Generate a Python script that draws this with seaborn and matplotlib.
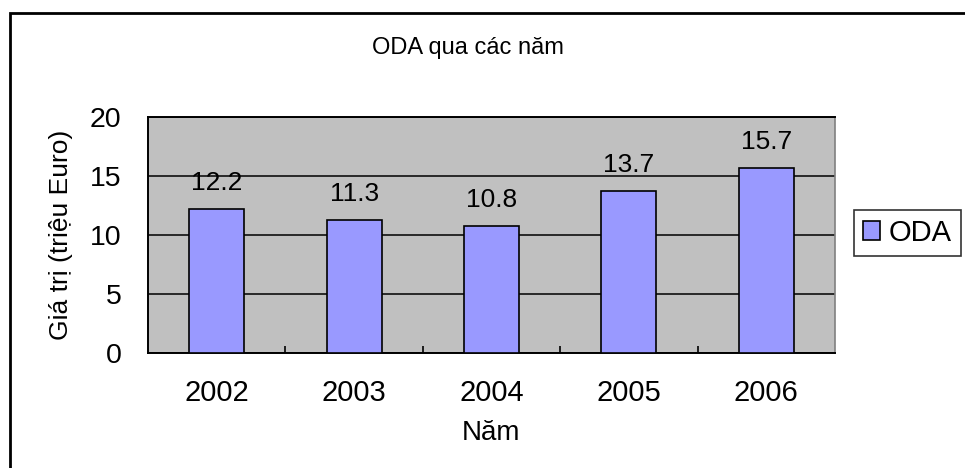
import pandas as pd
import matplotlib
matplotlib.use("Agg")
import matplotlib.pyplot as plt
import seaborn as sns
from matplotlib.patches import Rectangle
from matplotlib.ticker import FixedLocator

years = ["2002", "2003", "2004", "2005", "2006"]
oda = [12.2, 11.3, 10.8, 13.7, 15.7]
series_name = "ODA"

df = pd.DataFrame({"year": years, "value": oda})

sns.set_style("white")
plt.rcParams["font.family"] = ["Liberation Sans", "DejaVu Sans"]
plt.rcParams["text.color"] = "black"
plt.rcParams["axes.labelcolor"] = "black"
plt.rcParams["xtick.color"] = "black"
plt.rcParams["ytick.color"] = "black"

fig = plt.figure(figsize=(9.65, 4.68), dpi=100)
ax = fig.add_axes([148 / 965, 1 - 353 / 468, (835 - 148) / 965, (353 - 117) / 468])
ax.set_facecolor("#C0C0C0")

sns.barplot(data=df, x="year", y="value", color="#9999FF", width=0.4,
            edgecolor="black", linewidth=1.2, saturation=1, label=series_name, ax=ax, zorder=3)

ax.set_ylim(0, 20)
ax.set_yticks([0, 5, 10, 15, 20])
ax.yaxis.grid(True, color="black", linewidth=1.1, zorder=1)
ax.set_axisbelow(True)
ax.set_xlim(-0.5, 4.5)

for i, v in enumerate(oda):
    ax.annotate(f"{v}", (i, v), xytext=(0, 10), textcoords="offset points",
                ha="center", va="bottom", fontsize=19)

for s in ["left", "bottom", "top"]:
    ax.spines[s].set_color("black")
    ax.spines[s].set_linewidth(1.4)
ax.spines["right"].set_color("#808080")
ax.spines["right"].set_linewidth(1.2)

ax.tick_params(axis="y", labelsize=20.5, length=0, pad=19)
ax.tick_params(axis="x", which="major", labelsize=21, length=0, pad=19)
ax.xaxis.set_minor_locator(FixedLocator([0.5, 1.5, 2.5, 3.5]))
ax.tick_params(axis="x", which="minor", length=5, width=1.2, direction="in", bottom=True, color="black")

ax.set_xlabel("Năm", fontsize=20, labelpad=9)
ax.set_ylabel("Giá trị (triệu Euro)", fontsize=19, labelpad=12)

fig.text(468 / 965, 1 - 48 / 468, "ODA qua các năm", ha="center", va="center", fontsize=17)

leg = ax.legend(loc="center left", bbox_to_anchor=(854 / 965, 1 - 233 / 468),
                bbox_transform=fig.transFigure, frameon=True, fontsize=21,
                handlelength=0.6, handleheight=0.6, handletextpad=0.3,
                borderpad=0.3, borderaxespad=0, fancybox=False)
leg.get_frame().set_edgecolor("black")
leg.get_frame().set_linewidth(1.2)

fig.patches.append(Rectangle((10 / 965, -0.1), 2, 1.1 - 13 / 468, transform=fig.transFigure,
                             fill=False, edgecolor="black", linewidth=2))

fig.savefig("out.png", dpi=100)
